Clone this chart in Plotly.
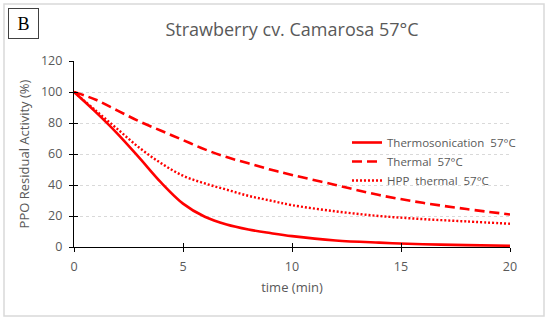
import plotly.graph_objects as go

time_min = [0, 1, 2, 3, 4, 5, 6, 7, 8, 9, 10, 12, 14, 16, 18, 20]
thermosonication = [100, 87, 73, 57.5, 41.5, 28, 19.5, 14.5, 11.3, 9, 7, 4.2, 2.8, 1.8, 1.2, 0.8]
thermal = [100, 95, 88, 81, 75, 69, 63, 58, 54, 50, 46.5, 40, 33.5, 28.5, 24.5, 21]
hpp_thermal = [100, 88, 76, 64, 54, 46, 41, 37, 33, 30, 27, 23, 20, 18, 16.5, 15]

series_names = ["Thermosonication  57°C", "Thermal  57°C", "HPP  thermal  57°C"]
x_ticks = [0, 5, 10, 15, 20]
y_ticks = [0, 20, 40, 60, 80, 100, 120]

W, H = 550, 324
L, R, T, B = 74, 40, 61, 77
pw, ph = W - L - R, H - T - B

def px2paper_x(px):
    return (px - L) / pw

def px2paper_y(py):
    return (H - B - py) / ph

gray = "#595959"
font = "Open Sans"

fig = go.Figure()
fig.add_trace(go.Scatter(x=time_min, y=thermosonication, name=series_names[0], mode="lines",
                         line=dict(color="#FF0000", width=2.6, shape="spline")))
fig.add_trace(go.Scatter(x=time_min, y=thermal, name=series_names[1], mode="lines",
                         line=dict(color="#FF0000", width=2.6, shape="spline", dash="10px,5px")))
fig.add_trace(go.Scatter(x=time_min, y=hpp_thermal, name=series_names[2], mode="lines",
                         line=dict(color="#FF0000", width=2.4, shape="spline", dash="2px,2px")))

axis_common = dict(showline=True, linecolor="black", linewidth=1.3, ticks="outside",
                   ticklen=4, tickwidth=1.3, tickcolor="black", zeroline=False,
                   ticklabelstandoff=4, automargin=False,
                   tickfont=dict(family=font, size=12.5, color=gray))

fig.update_layout(
    width=W, height=H,
    margin=dict(l=L, r=R, t=T, b=B, autoexpand=False),
    paper_bgcolor="white", plot_bgcolor="white",
    font=dict(family=font, color=gray),
    title=dict(text="Strawberry cv. Camarosa 57°C", x=0.5, xanchor="center",
               xref="paper", y=1 - 30 / H, yanchor="middle",
               font=dict(family=font, size=18, color=gray)),
    xaxis=dict(range=[0, 20], tickvals=x_ticks, showgrid=False,
               title=dict(text="time (min)", font=dict(family=font, size=13, color=gray), standoff=8),
               **axis_common),
    yaxis=dict(range=[0, 120], tickvals=y_ticks, showgrid=True, gridcolor="#D9D9D9",
               griddash="dot", gridwidth=1,
               title=dict(text="PPO Residual Activity (%)", font=dict(family=font, size=13, color=gray), standoff=8),
               **axis_common),
    xaxis2=dict(range=[0, 20], tickvals=x_ticks, overlaying="x", anchor="y", side="bottom",
                ticks="inside", ticklen=4, tickwidth=1.3, tickcolor="black",
                showticklabels=False, showgrid=False, showline=False, zeroline=False),
    yaxis2=dict(range=[0, 120], tickvals=y_ticks, overlaying="y", anchor="x", side="left",
                ticks="inside", ticklen=4, tickwidth=1.3, tickcolor="black",
                showticklabels=False, showgrid=False, showline=False, zeroline=False),
    legend=dict(x=px2paper_x(347), y=px2paper_y(128), xanchor="left", yanchor="top",
                bgcolor="rgba(0,0,0,0)", font=dict(family=font, size=11.5, color=gray),
                tracegroupgap=0, itemwidth=30),
    showlegend=True,
)

fig.add_trace(go.Scatter(x=[None], y=[None], xaxis="x2", yaxis="y2", showlegend=False, hoverinfo="skip"))

fig.add_shape(type="rect", xref="paper", yref="paper",
              x0=px2paper_x(4), x1=px2paper_x(544), y0=px2paper_y(316), y1=px2paper_y(4),
              line=dict(color="#D9D9D9", width=1.5), fillcolor="rgba(0,0,0,0)", layer="below")

fig.add_annotation(text="B", xref="paper", yref="paper", x=px2paper_x(23), y=px2paper_y(24),
                   xanchor="center", yanchor="middle", showarrow=False,
                   font=dict(family="Liberation Serif", size=18, color="black"),
                   bordercolor="#404040", borderwidth=1, borderpad=4, bgcolor="white",
                   width=21, height=21)

fig.write_html("out.html", config={"displayModeBar": False},
               post_script="document.body.style.margin='0';document.body.style.overflow='hidden';")
